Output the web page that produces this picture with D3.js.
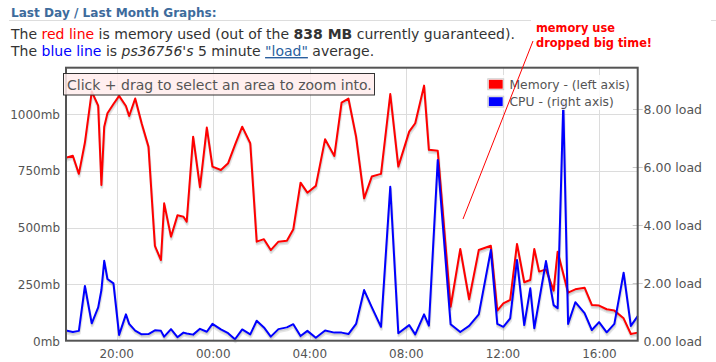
<!DOCTYPE html>
<html><head><meta charset="utf-8">
<script src="https://cdnjs.cloudflare.com/ajax/libs/d3/7.8.5/d3.min.js"></script>
<style>
html,body{margin:0;padding:0;background:#fff;}
svg{display:block;font-family:"DejaVu Sans",Verdana,sans-serif;}
</style></head><body>
<svg id="c" width="716" height="362"></svg>
<script>
const times = ["17:54","18:11","18:26","18:41","18:58","19:14","19:22","19:29","19:37","19:52",
"20:06","20:23","20:31","20:46","21:02","21:19","21:35","21:50","21:58","22:15",
"22:31","22:46","22:54","23:10","23:27","23:44","23:58","00:19","00:37","00:54",
"01:12","01:32","01:48","02:06","02:23","02:42","03:03","03:19","03:37","03:54",
"04:15","04:38","05:01","05:19","05:36","05:55","06:15","06:34","06:57","07:20",
"07:40","08:07","08:22","08:44","08:56","09:18","09:50","10:14","10:36","11:00",
"11:30","11:46","12:01","12:18","12:35","12:53","13:08","13:18","13:30","13:47",
"14:06","14:16","14:30","14:42","15:00","15:23","15:41","15:59","16:18","16:37",
"17:00","17:18","17:35"];
const memory = [808,817,737,875,1100,1038,688,945,1004,1045,
1081,1036,992,1069,960,857,419,357,607,460,
554,548,526,901,678,941,769,754,784,865,
945,872,438,449,401,438,442,493,698,654,
684,890,816,1051,1069,901,629,725,737,1089,
769,923,960,1126,843,839,151,406,184,401,
420,134,166,181,428,259,269,406,306,316,
222,394,296,213,228,235,159,156,140,134,
100,31,37];
const cpu = [0.36,0.31,0.35,1.90,0.61,1.16,1.76,2.77,2.14,1.99,
0.21,0.92,0.59,0.36,0.23,0.24,0.37,0.35,0.15,0.41,
0.13,0.29,0.26,0.22,0.42,0.32,0.59,0.40,0.27,0.06,
0.40,0.23,0.70,0.47,0.15,0.41,0.47,0.58,0.17,0.35,
0.11,0.36,0.29,0.29,0.24,0.59,1.76,1.17,0.49,5.33,
0.27,0.55,0.23,0.92,0.53,6.25,0.58,0.31,0.52,0.92,
3.14,0.59,0.49,0.78,2.80,0.55,1.82,0.44,1.40,2.76,
1.24,1.13,8.22,0.59,1.34,0.96,0.38,0.65,0.30,0.59,
2.36,0.52,0.86];
const memTicks = [0,250,500,750,1000];
const memTickLabels = ["0mb","250mb","500mb","750mb","1000mb"];
const cpuTicks = [0,2,4,6,8];
const cpuTickLabels = ["0.00 load","2.00 load","4.00 load","6.00 load","8.00 load"];
const legendLabels = ["Memory - (left axis)","CPU - (right axis)"];
const seriesColors = ["#ff0000","#0000ff"];

// parse times with day rollover
const dates = [];
{
  let day = 0, prev = -1;
  times.forEach(t => {
    const [h,m] = t.split(":").map(Number);
    const mins = h*60+m;
    if (mins < prev) day++;
    prev = mins;
    dates.push(new Date(Date.UTC(2011,2,7+day,h,m)));
  });
}
const memData = dates.map((d,i)=>({t:d,v:memory[i]}));
const cpuData = dates.map((d,i)=>({t:d,v:cpu[i]}));

const L=66, R=637.7, T=67.7, B=341;
const svg = d3.select("#c");
const x = d3.scaleUtc().domain(d3.extent(dates)).range([L,R]);
const yM = d3.scaleLinear().domain([0,1205]).range([B,T]);
const yC = d3.scaleLinear().domain([0,9.44]).range([B,T]);

// header
svg.append("text").attr("x",11).attr("y",17).attr("font-size",12.1).attr("font-weight","bold")
  .attr("fill","#3d6b9c").text("Last Day / Last Month Graphs:");
svg.append("line").attr("x1",9).attr("x2",716).attr("y1",20.5).attr("y2",20.5).attr("stroke","#dddddd");

const t1 = svg.append("text").attr("x",11).attr("y",39).attr("font-size",14).attr("fill","#333");
t1.append("tspan").text("The ");
t1.append("tspan").attr("fill","#ff0000").text("red line");
t1.append("tspan").text(" is memory used (out of the ");
t1.append("tspan").attr("font-weight","bold").text("838 MB");
t1.append("tspan").text(" currently guaranteed).");
const t2 = svg.append("text").attr("x",11).attr("y",56).attr("font-size",14).attr("fill","#333");
t2.append("tspan").text("The ");
t2.append("tspan").attr("fill","#0000ff").text("blue line");
t2.append("tspan").text(" is ");
t2.append("tspan").attr("font-style","italic").text("ps36756's");
t2.append("tspan").text(" 5 minute ");
t2.append("tspan").attr("fill","#2b5f9e").attr("text-decoration","underline").text("\"load\"");
t2.append("tspan").text(" average.");

// grid
const g = svg.append("g");
g.selectAll(".vg").data(x.ticks(d3.utcHour.every(4))).join("line")
  .attr("x1",d=>Math.round(x(d))+0.5).attr("x2",d=>Math.round(x(d))+0.5)
  .attr("y1",T).attr("y2",B).attr("stroke","#dcdcdc");
g.selectAll(".hg").data(memTicks.slice(1)).join("line")
  .attr("x1",L).attr("x2",R).attr("y1",d=>Math.round(yM(d))+0.5).attr("y2",d=>Math.round(yM(d))+0.5)
  .attr("stroke","#dcdcdc");
// right axis tick marks
g.selectAll(".rt").data(cpuTicks.slice(1)).join("line")
  .attr("x1",R-5).attr("x2",R+5).attr("y1",d=>Math.round(yC(d))+0.5).attr("y2",d=>Math.round(yC(d))+0.5)
  .attr("stroke","#c8c8c8");

// series
function drawSeries(data, y, color){
  const line = d3.line().x(d=>x(d.t)).y(d=>y(d.v));
  const s = svg.append("g");
  const a = Math.PI/18;
  s.append("path").datum(data).attr("d",line).attr("fill","none")
    .attr("stroke","rgba(0,0,0,0.1)").attr("stroke-width",3).attr("stroke-linejoin","round")
    .attr("transform",`translate(${Math.sin(a)*2.5},${Math.cos(a)*2.5})`);
  s.append("path").datum(data).attr("d",line).attr("fill","none")
    .attr("stroke","rgba(0,0,0,0.1)").attr("stroke-width",1.5).attr("stroke-linejoin","round")
    .attr("transform",`translate(${Math.sin(a)*1.75},${Math.cos(a)*1.75})`);
  s.append("path").datum(data).attr("d",line).attr("fill","none")
    .attr("stroke",color).attr("stroke-width",2).attr("stroke-linejoin","round");
}
drawSeries(memData, yM, seriesColors[0]);
drawSeries(cpuData, yC, seriesColors[1]);

// border
svg.append("rect").attr("x",L).attr("y",T).attr("width",R-L).attr("height",B-0.3-T)
  .attr("fill","none").attr("stroke","#545454").attr("stroke-width",2);

// axes labels
const lab = svg.append("g").attr("font-size",12).attr("fill","#545454");
lab.selectAll(".yl").data(memTicks).join("text")
  .attr("x",60).attr("y",d=>yM(d)+4.5).attr("text-anchor","end")
  .text((d,i)=>memTickLabels[i]);
lab.selectAll(".yr").data(cpuTicks).join("text")
  .attr("x",643.5).attr("y",d=>yC(d)+4.5).attr("text-anchor","start").attr("font-size",12.5)
  .text((d,i)=>cpuTickLabels[i]);
lab.selectAll(".xl").data(x.ticks(d3.utcHour.every(4))).join("text")
  .attr("x",d=>x(d)).attr("y",358).attr("text-anchor","middle")
  .text(d=>d3.utcFormat("%H:%M")(d));

// legend
const lg = svg.append("g");
lg.append("rect").attr("x",485).attr("y",75).attr("width",148).attr("height",35)
  .attr("fill","#fff").attr("opacity",0.85);
legendLabels.forEach((name,i)=>{
  const yy = 78.8 + i*17.4;
  lg.append("rect").attr("x",487.8).attr("y",yy).attr("width",15.9).attr("height",10.9)
    .attr("fill","none").attr("stroke","#cccccc");
  lg.append("rect").attr("x",488.8).attr("y",yy+1).attr("width",13.9).attr("height",8.9)
    .attr("fill",seriesColors[i]);
  lg.append("text").attr("x",509.5).attr("y",yy+9.8).attr("font-size",12.3).attr("fill","#545454").text(name);
});

// zoom hint
svg.append("rect").attr("x",63.5).attr("y",73.5).attr("width",311).attr("height",21.5)
  .attr("fill","rgba(255,236,236,0.85)").attr("stroke","#333").attr("stroke-width",1);
svg.append("text").attr("x",67).attr("y",89.5).attr("font-size",14).attr("fill","#555")
  .text("Click + drag to select an area to zoom into.");

// annotation
svg.append("rect").attr("x",531).attr("y",15).attr("width",180).attr("height",36).attr("fill","#fff");
svg.append("line").attr("x1",533).attr("y1",41).attr("x2",463).attr("y2",219)
  .attr("stroke","#ff0000").attr("stroke-width",1);
const an = svg.append("text").attr("font-size",11.4).attr("font-weight","bold").attr("fill","#ff0000");
an.append("tspan").attr("x",536).attr("y",32).text("memory use");
an.append("tspan").attr("x",536).attr("y",47).text("dropped big time!");
</script>
</body></html>
